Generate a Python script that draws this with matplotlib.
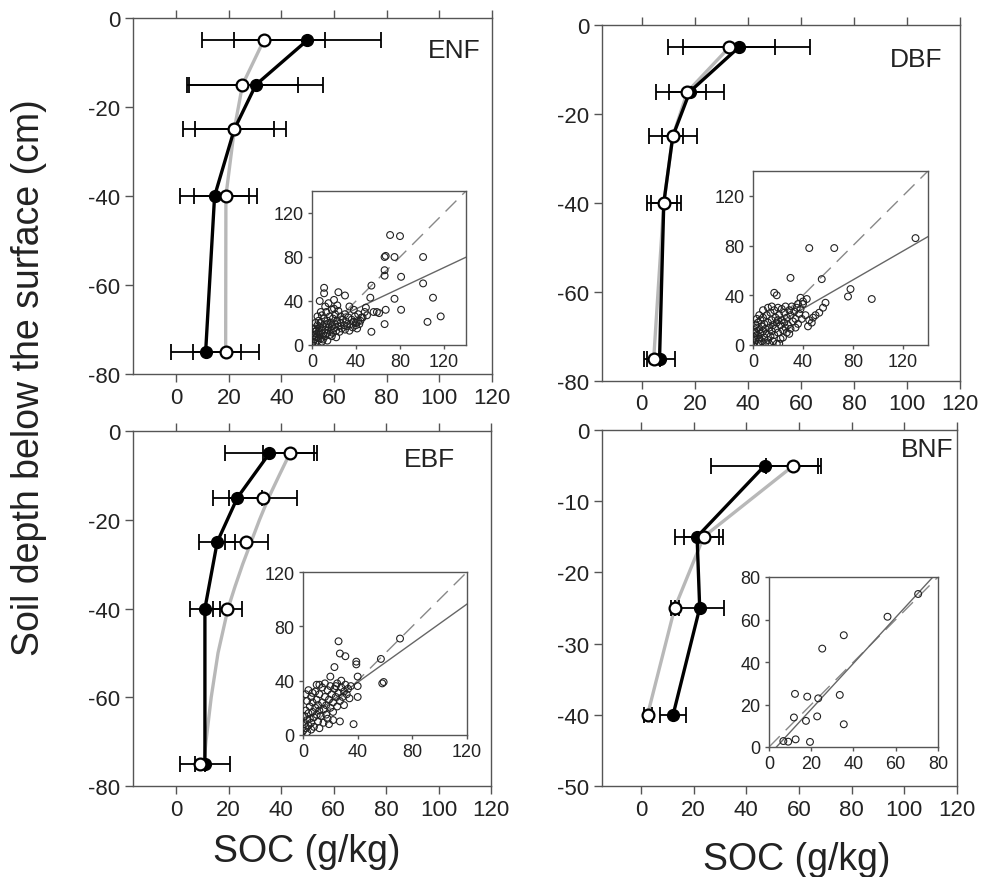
import matplotlib
matplotlib.use("Agg")
import matplotlib.pyplot as plt

plt.rcParams['font.family'] = ['Liberation Sans', 'DejaVu Sans']
plt.rcParams['axes.unicode_minus'] = False

W, H = 987, 878
TXT = '#222222'
SPINE = '#555555'

# --- depth profiles: depth (cm), filled (black) and open (grey) SOC means and errors
enf_depth = [-5, -15, -25, -40, -75]
enf_filled = [49.8, 30.3, 22.1, 14.6, 11.2]
enf_filled_err = [28.0, 25.4, 15.0, 13.0, 13.3]
enf_open = [33.3, 25.2, 22.1, 18.9, 18.8]
enf_open_err = [23.3, 21.0, 19.5, 12.0, 12.5]

dbf_depth = [-5, -15, -25, -40, -75]
dbf_filled = [36.6, 18.1, 11.7, 8.3, 6.7]
dbf_filled_err = [26.8, 12.8, 9.0, 6.5, 5.7]
dbf_open = [33.0, 17.2, 11.7, 8.3, 4.5]
dbf_open_err = [17.4, 7.0, 4.0, 5.0, 2.5]

ebf_depth = [-5, -15, -25, -40, -75]
ebf_filled = [35.6, 23.4, 15.7, 11.0, 11.0]
ebf_filled_err = [17.0, 9.2, 6.8, 5.7, 9.5]
ebf_open = [43.4, 33.0, 26.7, 19.6, 9.1]
ebf_open_err = [10.2, 13.0, 8.2, 5.4, 2.0]
# grey fitted curve for EBF
ebf_curve_depth = [-5, -10, -15, -20, -25, -30, -35, -40, -50, -60, -70, -75]
ebf_curve_soc = [43.4, 39.3, 35.3, 31.8, 28.6, 25.4, 22.5, 19.8, 16.0, 13.4, 11.4, 10.6]

bnf_depth = [-5, -15, -25, -40]
bnf_filled = [47.0, 21.3, 22.3, 12.2]
bnf_filled_err = [20.3, 8.5, 9.4, 5.0]
bnf_open = [57.9, 23.8, 12.8, 2.5]
bnf_open_err = [10.5, 7.3, 1.5, 1.5]

# --- inset scatter points (x, y) and regression (slope, intercept)
enf_pts = [(71, 100), (80, 99), (67, 81), (66, 80), (75, 80), (101, 80), (66, 68), (66, 63),
           (81, 62), (101, 56), (54, 54), (75, 42), (110, 43), (81, 32), (67, 32), (117, 26),
           (105, 21), (66, 19), (54, 12), (53, 43), (61, 29), (59, 30), (11, 52), (11, 47),
           (24, 48), (30, 45), (7, 40), (20, 41), (23, 36), (34, 35), (49, 34), (42, 28),
           (46, 25), (44, 22), (40, 20), (48, 30), (50, 27), (38, 32), (56, 30),
           (0, 0), (1, 3), (1, 8), (2, 5), (2, 12), (3, 2), (3, 15), (4, 7), (4, 10), (5, 18),
           (5, 4), (6, 12), (6, 22), (7, 9), (7, 16), (8, 6), (8, 20), (9, 13), (9, 27),
           (10, 10), (10, 17), (11, 24), (12, 8), (12, 14), (13, 19), (13, 30), (14, 11),
           (14, 22), (15, 16), (16, 26), (16, 9), (17, 13), (17, 20), (18, 32), (18, 17),
           (19, 11), (19, 24), (20, 15), (21, 19), (21, 28), (22, 13), (23, 22), (24, 17),
           (24, 31), (25, 12), (26, 20), (26, 26), (27, 15), (28, 23), (29, 18), (30, 14),
           (30, 28), (31, 21), (32, 17), (33, 25), (34, 13), (35, 19), (36, 23), (37, 16),
           (38, 21), (39, 26), (40, 18), (41, 15), (42, 22), (43, 19), (45, 25), (3, 20),
           (5, 26), (8, 30), (12, 35), (15, 38), (20, 33), (2, 9), (4, 13), (6, 6), (10, 5),
           (14, 4), (18, 8), (22, 7), (1, 15), (9, 3)]
enf_fit = (0.47, 14.0)

dbf_pts = [(45, 78), (65, 78), (130, 86), (30, 54), (55, 53), (17, 42), (19, 40), (78, 45),
           (76, 39), (95, 37), (38, 38), (43, 37), (58, 34), (56, 30), (53, 26), (48, 22),
           (44, 15), (34, 14), (40, 35), (36, 33), (42, 24), (45, 20), (50, 24), (47, 18),
           (0, 0), (1, 2), (1, 6), (2, 10), (2, 4), (3, 14), (3, 8), (4, 1), (4, 18), (5, 5),
           (5, 12), (6, 20), (6, 9), (7, 3), (7, 15), (8, 11), (8, 22), (9, 6), (9, 17),
           (10, 2), (10, 13), (11, 24), (11, 9), (12, 18), (12, 4), (13, 14), (14, 26),
           (14, 7), (15, 20), (15, 11), (16, 3), (16, 16), (17, 28), (17, 8), (18, 22),
           (18, 13), (19, 1), (19, 18), (20, 30), (20, 10), (21, 24), (22, 16), (22, 5),
           (23, 29), (23, 20), (24, 12), (25, 26), (25, 18), (26, 31), (27, 22), (27, 10),
           (28, 16), (29, 28), (30, 24), (30, 13), (31, 31), (32, 19), (33, 27), (34, 21),
           (35, 30), (36, 17), (37, 25), (38, 29), (39, 21), (40, 33), (2, 16), (3, 21),
           (5, 24), (8, 28), (1, 12), (6, 1), (13, 1), (21, 1), (12, 30), (15, 31), (20, 20),
           (24, 6), (26, 14), (29, 9)]
dbf_fit = (0.58, 6.0)

ebf_pts = [(26, 69), (27, 60), (31, 58), (71, 71), (57, 56), (39, 54), (39, 52), (23, 50),
           (20, 43), (40, 43), (59, 39), (58, 38), (40, 36), (40, 28), (37, 8), (22, 11),
           (27, 10), (12, 37), (7, 31),
           (0, 3), (1, 8), (1, 14), (2, 18), (2, 5), (3, 11), (3, 25), (4, 16), (4, 7),
           (5, 21), (5, 12), (6, 28), (6, 9), (7, 17), (7, 24), (8, 13), (8, 6), (9, 20),
           (9, 32), (10, 15), (10, 26), (11, 10), (11, 22), (12, 18), (12, 30), (13, 14),
           (14, 24), (14, 35), (15, 19), (15, 9), (16, 28), (17, 22), (17, 15), (18, 33),
           (18, 12), (19, 26), (20, 20), (20, 36), (21, 30), (22, 24), (22, 17), (23, 34),
           (24, 28), (25, 21), (25, 38), (26, 31), (27, 25), (28, 35), (29, 28), (30, 32),
           (30, 22), (31, 37), (32, 30), (33, 34), (34, 27), (35, 36), (2, 30), (4, 33),
           (10, 37), (16, 38), (24, 36), (28, 40), (3, 2), (6, 4), (12, 5), (19, 8)]
ebf_fit = (0.72, 10.0)

bnf_pts = [(70.6, 72), (56.1, 61.3), (35.4, 52.6), (25.2, 46.3), (12.3, 25), (18.1, 23.7),
           (23.3, 22.9), (33.5, 24.5), (11.8, 13.9), (17.5, 12.3), (22.8, 14.4), (35.4, 10.7),
           (6.8, 2.8), (9.1, 2.5), (12.6, 3.6), (19.4, 2.4)]
bnf_fit = (1.08, -3.8)


def box(l, t, r, b):
    return [l / W, 1 - b / H, (r - l) / W, (b - t) / H]


def style_axes(ax, size, length):
    for s in ax.spines.values():
        s.set_color(SPINE)
        s.set_linewidth(1.0)
    ax.tick_params(direction='out', length=length, width=1.0, color=SPINE,
                   labelsize=size, labelcolor=TXT, pad=3)


def profile(rect, name, name_xy, xlim, ylim, yticks, depth, filled, filled_err,
            opn, opn_err, curve_depth, curve_soc):
    ax = fig.add_axes(box(*rect))
    ax.plot(curve_soc, curve_depth, color='#b8b8b8', lw=2.4, zorder=2)
    ax.plot(filled, depth, color='black', lw=2.4, zorder=3)
    ax.errorbar(filled, depth, xerr=filled_err, fmt='none', ecolor='black',
                elinewidth=1.3, capsize=6, capthick=1.3, zorder=4)
    ax.errorbar(opn, depth, xerr=opn_err, fmt='none', ecolor='black',
                elinewidth=1.3, capsize=6, capthick=1.3, zorder=4)
    ax.plot(filled, depth, 'o', ms=8.5, mfc='black', mec='black', zorder=5)
    ax.plot(opn, depth, 'o', ms=8.5, mfc='white', mec='black', mew=1.6, zorder=6)
    ax.set_xlim(*xlim)
    ax.set_ylim(*ylim)
    ax.set_xticks(range(0, 121, 20))
    ax.set_yticks(yticks)
    style_axes(ax, 16, 6)
    ax.tick_params(axis='x', top=True)
    ax.text(name_xy[0], name_xy[1], name, transform=ax.transAxes, ha='right',
            va='center', fontsize=19, color=TXT)
    return ax


def inset(rect, pts, fit, lim, ticks):
    ax = fig.add_axes(box(*rect))
    ax.axline((0, 0), slope=1, color='#888888', lw=1.0, dashes=(11, 6), zorder=2)
    ax.axline((0, fit[1]), slope=fit[0], color='#666666', lw=1.0, zorder=2)
    xs = [p[0] for p in pts]
    ys = [p[1] for p in pts]
    ax.scatter(xs, ys, s=24, facecolors='none', edgecolors='#222222', linewidths=0.8, zorder=3)
    ax.set_xlim(0, lim)
    ax.set_ylim(0, lim)
    ax.set_xticks(ticks)
    ax.set_yticks(ticks)
    style_axes(ax, 13, 3)
    return ax


fig = plt.figure(figsize=(W / 100, H / 100), dpi=100)

profile((133, 19, 492, 375), 'ENF', (0.967, 0.91), (-16.4, 120), (-80, 0),
        range(-80, 1, 20), enf_depth, enf_filled, enf_filled_err, enf_open, enf_open_err,
        enf_depth, enf_open)
profile((602, 26, 960, 382), 'DBF', (0.95, 0.904), (-15, 120), (-80, 0),
        range(-80, 1, 20), dbf_depth, dbf_filled, dbf_filled_err, dbf_open, dbf_open_err,
        dbf_depth, dbf_open)
profile((133, 432, 491, 787), 'EBF', (0.9, 0.921), (-16.4, 120), (-80, 0),
        range(-80, 1, 20), ebf_depth, ebf_filled, ebf_filled_err, ebf_open, ebf_open_err,
        ebf_curve_depth, ebf_curve_soc)
profile((602, 431, 957, 787), 'BNF', (0.989, 0.947), (-14.8, 120), (-50, 0),
        range(-50, 1, 10), bnf_depth, bnf_filled, bnf_filled_err, bnf_open, bnf_open_err,
        bnf_depth, bnf_open)

inset((312, 192, 466, 346), enf_pts, enf_fit, 140, [0, 40, 80, 120])
inset((753, 172, 928, 346), dbf_pts, dbf_fit, 140, [0, 40, 80, 120])
inset((303, 573, 467, 736), ebf_pts, ebf_fit, 120, [0, 40, 80, 120])
inset((769, 578, 938, 748), bnf_pts, bnf_fit, 80, [0, 20, 40, 60, 80])

fig.text(29 / W, 1 - 378 / H, 'Soil depth below the surface (cm)', rotation=90,
         ha='center', va='center', fontsize=27, color=TXT)
fig.text(307 / W, 1 - 852 / H, 'SOC (g/kg)', ha='center', va='center', fontsize=27, color=TXT)
fig.text(797 / W, 1 - 860 / H, 'SOC (g/kg)', ha='center', va='center', fontsize=27, color=TXT)

fig.savefig('out.png', dpi=100)
